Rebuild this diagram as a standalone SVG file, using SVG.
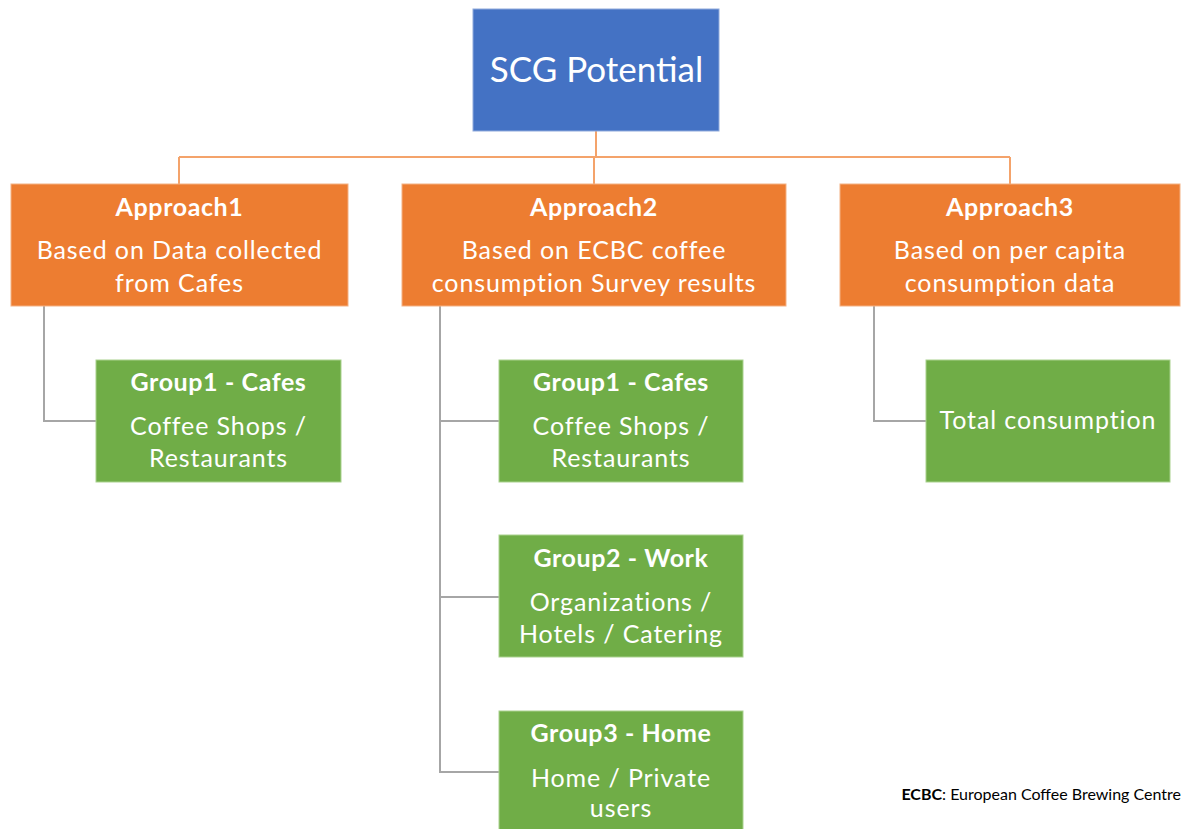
<svg xmlns="http://www.w3.org/2000/svg" width="1183" height="829" viewBox="0 0 1183 829">
<style>
text{font-family:Lato,"Open Sans","Liberation Sans",sans-serif;fill:#fff;text-anchor:middle}
.t{font-size:25px;letter-spacing:0.9px}
.b{font-size:25px;font-weight:bold;letter-spacing:0.6px}
.root{fill:#4472C4;stroke:#8faadc;stroke-width:1}
.app{fill:#ED7D31;stroke:#f4b183;stroke-width:1}
.grp{fill:#70AD47;stroke:#a9d18e;stroke-width:1}
.oc{stroke:#F4A36B;stroke-width:2;fill:none}
.gc{stroke:#A6A6A6;stroke-width:2;fill:none}
</style>
<rect width="1183" height="829" fill="#fff"/>
<g id="connectors">
<path class="oc" d="M596 131V157M179 157H1010M179 157V184M594 157V184M1010 157V184"/>
<path class="gc" d="M44 306V421H96"/>
<path class="gc" d="M440 306V772H499M440 421H499M440 597H499"/>
<path class="gc" d="M874 306V421H926"/>
</g>
<g id="root"><rect class="root" x="473" y="9" width="246" height="122"/><text x="596.5" y="82" style="font-size:35px">SCG Potential</text></g>
<g id="approach1"><rect class="app" x="11" y="184" width="337" height="122"/><text class="b" x="179.5" y="216">Approach1</text><text class="t" x="179.5" y="259">Based on Data collected</text><text class="t" x="179.5" y="292">from Cafes</text></g>
<g id="approach2"><rect class="app" x="402" y="184" width="384" height="122"/><text class="b" x="594" y="216">Approach2</text><text class="t" x="594" y="259">Based on ECBC coffee</text><text class="t" x="594" y="292">consumption Survey results</text></g>
<g id="approach3"><rect class="app" x="840" y="184" width="340" height="122"/><text class="b" x="1010" y="216">Approach3</text><text class="t" x="1010" y="259">Based on per capita</text><text class="t" x="1010" y="292">consumption data</text></g>
<g id="a1-group1"><rect class="grp" x="96" y="360" width="245" height="122"/><text class="b" x="218.5" y="391">Group1 - Cafes</text><text class="t" x="218.5" y="435">Coffee Shops /</text><text class="t" x="218.5" y="467">Restaurants</text></g>
<g id="a2-group1"><rect class="grp" x="499" y="360" width="244" height="122"/><text class="b" x="621" y="391">Group1 - Cafes</text><text class="t" x="621" y="435">Coffee Shops /</text><text class="t" x="621" y="467">Restaurants</text></g>
<g id="a2-group2"><rect class="grp" x="499" y="535" width="244" height="122"/><text class="b" x="621" y="567">Group2 - Work</text><text class="t" x="621" y="611">Organizations /</text><text class="t" x="621" y="643">Hotels / Catering</text></g>
<g id="a2-group3"><rect class="grp" x="499" y="711" width="244" height="122"/><text class="b" x="621" y="742">Group3 - Home</text><text class="t" x="621" y="787">Home / Private</text><text class="t" x="621" y="817">users</text></g>
<g id="a3-total"><rect class="grp" x="926" y="360" width="244" height="122"/><text class="t" x="1048" y="429">Total consumption</text></g>
<g id="footnote"><text x="1181" y="800" style="font-size:16px;fill:#000;text-anchor:end"><tspan font-weight="bold">ECBC</tspan>: European Coffee Brewing Centre</text></g>
</svg>
